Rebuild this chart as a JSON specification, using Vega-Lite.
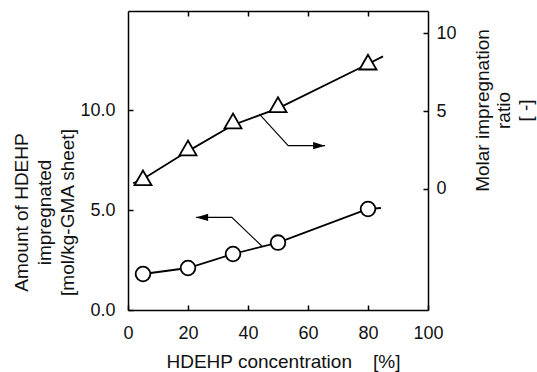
{
  "$schema": "https://vega.github.io/schema/vega-lite/v6.json",
  "width": 300,
  "height": 299,
  "autosize": {"type": "none"},
  "padding": {"left": 128, "top": 11, "right": 109, "bottom": 62},
  "background": "white",
  "config": {
    "view": {"stroke": null},
    "axis": {
      "grid": false,
      "domainColor": "#000000",
      "domainWidth": 1.5,
      "tickColor": "#000000",
      "tickWidth": 1.5,
      "tickSize": -5,
      "labelFont": "Liberation Sans",
      "labelFontSize": 18,
      "labelColor": "#111111",
      "labelFlush": false,
      "labelOverlap": false,
      "titleFont": "Liberation Sans",
      "titleFontSize": 19,
      "titleFontWeight": "normal",
      "titleColor": "#111111"
    }
  },
  "resolve": {"scale": {"y": "independent"}, "axis": {"x": "independent", "y": "independent"}},
  "layer": [
    {
      "data": {"values": [
        {"kind": "line", "x": 5, "y": 1.8},
        {"kind": "line", "x": 20, "y": 2.1},
        {"kind": "line", "x": 35, "y": 2.8},
        {"kind": "line", "x": 50, "y": 3.37},
        {"kind": "line", "x": 80, "y": 5.05},
        {"kind": "line", "x": 84.3, "y": 5.1},
        {"kind": "pt", "x": 5, "y": 1.8},
        {"kind": "pt", "x": 20, "y": 2.1},
        {"kind": "pt", "x": 35, "y": 2.8},
        {"kind": "pt", "x": 50, "y": 3.37},
        {"kind": "pt", "x": 80, "y": 5.05},
        {"kind": "arrow", "x": 44.6, "y": 3.2},
        {"kind": "arrow", "x": 34.6, "y": 4.63},
        {"kind": "arrow", "x": 22.7, "y": 4.63},
        {"kind": "head", "x": 22.7, "y": 4.63}
      ]},
      "encoding": {
        "x": {
          "field": "x", "type": "quantitative",
          "scale": {"domain": [0, 100], "nice": false, "zero": false},
          "axis": {
            "orient": "bottom",
            "values": [0, 20, 40, 60, 80, 100],
            "labelPadding": 19,
            "title": "HDEHP concentration\u00a0\u00a0\u00a0\u00a0[%]",
            "titleX": 155,
            "titleY": 57,
            "titleAlign": "center",
            "titleBaseline": "alphabetic"
          }
        },
        "y": {
          "field": "y", "type": "quantitative",
          "scale": {"domain": [0, 14.95], "nice": false, "zero": false},
          "axis": {
            "orient": "left",
            "values": [0, 5, 10],
            "format": ".1f",
            "labelPadding": 18,
            "title": ["Amount of HDEHP", "impregnated", "[mol/kg-GMA sheet]"],
            "titleAngle": 270,
            "titleX": -107,
            "titleY": 201,
            "titleAlign": "center",
            "titleBaseline": "middle",
            "titleLineHeight": 23
          }
        }
      },
      "layer": [
        {"transform": [{"filter": "datum.kind == 'line'"}], "mark": {"type": "line", "color": "#000000", "strokeWidth": 1.8}},
        {"transform": [{"filter": "datum.kind == 'arrow'"}], "mark": {"type": "line", "color": "#000000", "strokeWidth": 1.1}},
        {"transform": [{"filter": "datum.kind == 'head'"}], "mark": {"type": "point", "shape": "M0,0L2,-0.6L2,0.6Z", "size": 144, "filled": true, "color": "#000000", "opacity": 1}},
        {"transform": [{"filter": "datum.kind == 'pt'"}], "mark": {"type": "point", "shape": "circle", "size": 215, "filled": true, "fill": "#ffffff", "stroke": "#000000", "strokeWidth": 1.8, "opacity": 1}}
      ]
    },
    {
      "data": {"values": [
        {"kind": "line", "x": 1.7, "y": 0.35},
        {"kind": "line", "x": 5, "y": 0.62},
        {"kind": "line", "x": 20, "y": 2.42},
        {"kind": "line", "x": 35, "y": 4.1},
        {"kind": "line", "x": 50, "y": 5.17},
        {"kind": "line", "x": 80, "y": 8.03},
        {"kind": "line", "x": 85, "y": 8.52},
        {"kind": "pt", "x": 5, "y": 0.7},
        {"kind": "pt", "x": 20, "y": 2.62},
        {"kind": "pt", "x": 35, "y": 4.36},
        {"kind": "pt", "x": 50, "y": 5.41},
        {"kind": "pt", "x": 80, "y": 8.15},
        {"kind": "arrow", "x": 43.8, "y": 4.8},
        {"kind": "arrow", "x": 53.4, "y": 2.77},
        {"kind": "arrow", "x": 65.7, "y": 2.77},
        {"kind": "head", "x": 65.7, "y": 2.77}
      ]},
      "encoding": {
        "x": {
          "field": "x", "type": "quantitative",
          "scale": {"domain": [0, 100], "nice": false, "zero": false},
          "axis": {
            "orient": "top",
            "values": [20, 40, 60, 80],
            "labels": false,
            "title": null
          }
        },
        "y": {
          "field": "y", "type": "quantitative",
          "scale": {"domain": [-7.81, 11.44], "nice": false, "zero": false},
          "axis": {
            "orient": "right",
            "values": [0, 5, 10],
            "format": "d",
            "labelPadding": 13,
            "title": ["Molar impregnation", "ratio", "[ -]"],
            "titleAngle": 270,
            "titleX": 54,
            "titleY": 99,
            "titleAlign": "center",
            "titleBaseline": "middle",
            "titleLineHeight": 21.5
          }
        }
      },
      "layer": [
        {"transform": [{"filter": "datum.kind == 'line'"}], "mark": {"type": "line", "color": "#000000", "strokeWidth": 1.8}},
        {"transform": [{"filter": "datum.kind == 'arrow'"}], "mark": {"type": "line", "color": "#000000", "strokeWidth": 1.1}},
        {"transform": [{"filter": "datum.kind == 'head'"}], "mark": {"type": "point", "shape": "M0,0L-2,-0.6L-2,0.6Z", "size": 144, "filled": true, "color": "#000000", "opacity": 1}},
        {"transform": [{"filter": "datum.kind == 'pt'"}], "mark": {"type": "point", "shape": "triangle-up", "size": 290, "filled": true, "fill": "#ffffff", "stroke": "#000000", "strokeWidth": 1.8, "opacity": 1}}
      ]
    }
  ]
}
